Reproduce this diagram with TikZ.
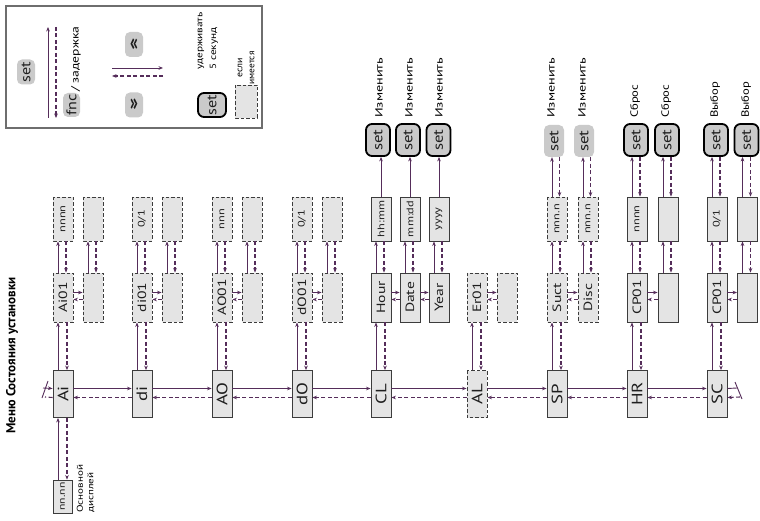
\documentclass[tikz,border=0pt]{standalone}
\usepackage{fontspec}
\usepackage{graphicx}
\setmainfont{PT Sans}
\setsansfont{PT Sans}
\usetikzlibrary{arrows.meta,calc}
\definecolor{arrc}{RGB}{85,45,90}
\definecolor{boxfill}{RGB}{228,228,228}
\definecolor{boxdraw}{RGB}{60,60,60}
\definecolor{btnfill}{RGB}{202,202,202}
\definecolor{txtc}{RGB}{30,30,30}
\definecolor{legc}{RGB}{110,110,110}
\newcommand{\sx}[2][1.3]{\scalebox{#1}[1]{#2}}
\tikzset{
  bx/.style={draw=boxdraw, fill=boxfill, line width=0.9pt, rotate=90, inner sep=0pt, minimum height=20pt, text=txtc},
  dbx/.style={bx, dash pattern=on 3.5pt off 2pt},
  mainbx/.style={minimum width=47pt, font=\fontsize{15}{15}\selectfont},
  lonebx/.style={minimum width=49pt, font=\fontsize{12}{12}\selectfont},
  ltwobx/.style={minimum width=44pt, font=\fontsize{9.5}{9.5}\selectfont},
  setb/.style={draw=black, line width=1.8pt, fill=btnfill, rounded corners=6pt, rotate=90, inner sep=0pt, minimum width=32pt, minimum height=24pt, text=txtc, font=\fontsize{14}{14}\selectfont},
  setl/.style={fill=btnfill, rounded corners=5pt, rotate=90, inner sep=0pt, minimum width=32pt, minimum height=20pt, text=txtc, font=\fontsize{14}{14}\selectfont},
  lbl/.style={rotate=90, anchor=west, inner sep=0pt, text=black, font=\fontsize{10.5}{10.5}\selectfont},
  sa/.style={draw=arrc, line width=0.9pt, -{Stealth[length=4.5pt,width=3.6pt]}},
  sl/.style={draw=arrc, line width=0.9pt},
  da/.style={draw=arrc, line width=1.1pt, dash pattern=on 4pt off 2.5pt, -{Stealth[length=4.5pt,width=3.6pt]}},
  dl/.style={draw=arrc, line width=1.1pt, dash pattern=on 4pt off 2.5pt},
}
\newcommand{\updown}[4]{%
  \draw[sa] ([xshift=#3]#1.east) -- ([xshift=#3]#1.east |- #2.west);
  \draw[da] ([xshift=#4]#1.east |- #2.west) -- ([xshift=#4]#1.east);}
\newcommand{\sidearr}[2]{%
  \draw[sa] ([yshift=5pt]#1.south) -- ([yshift=5pt]#2.north);
  \draw[da] ([yshift=-2pt]#2.north) -- ([yshift=-2pt]#1.south);}
\begin{document}
\begin{tikzpicture}[x=1pt,y=-1pt]
\useasboundingbox (0,0) rectangle (760,521);
\fill[white] (0,0) rectangle (760,521);

% ---------- legend ----------
\draw[legc, line width=1.3pt] (6,6) rectangle (262,128);
\node[setl, minimum width=25pt, minimum height=18pt] (Lset) at (26,72) {\sx[1.15]{set}};
\coordinate (Lv1) at (48,118);
\coordinate (Lv2) at (48,27);
\coordinate (Lv3) at (56,27);
\coordinate (Lv4) at (56,118);
\draw[sa] (Lv1) -- (Lv2);
\draw[da] (Lv3) -- (Lv4);
\node[setl, minimum width=24pt, minimum height=17pt] (Lfnc) at (71.5,105) {\sx[1.15]{fnc}};
\node[lbl] (Lzad) at (76,92) {\sx{/ задержка}};
\node[fill=btnfill, rounded corners=5pt, inner sep=0pt, minimum width=18pt, minimum height=25pt, text=txtc, font=\bfseries\fontsize{16}{16}\selectfont] (Lup) at (134,44.5) {\scalebox{1}[1.5]{«}};
\node[fill=btnfill, rounded corners=5pt, inner sep=0pt, minimum width=18pt, minimum height=25pt, text=txtc, font=\bfseries\fontsize{16}{16}\selectfont] (Ldn) at (134,105) {\scalebox{1}[1.5]{»}};
\coordinate (Lh1) at (112,68);
\coordinate (Lh2) at (163,68);
\coordinate (Lh3) at (163,76);
\coordinate (Lh4) at (112,76);
\draw[sa] (Lh1) -- (Lh2);
\draw[da] (Lh3) -- (Lh4);
\node[setb, minimum width=24pt, minimum height=28pt] (Lhold) at (212,105) {\sx[1.15]{set}};
\node[lbl, font=\fontsize{9}{9}\selectfont] (Lt1) at (201,70) {\sx[1.25]{удерживать}};
\node[lbl, font=\fontsize{9}{9}\selectfont] (Lt2) at (214,70) {\sx[1.25]{5 секунд}};
\node[dbx, minimum width=33pt, minimum height=22pt] (Lopt) at (246,101.5) {};
\node[rotate=90, inner sep=0pt, font=\fontsize{9}{9}\selectfont] (Lt3) at (240,68) {\sx[1.1]{если}};
\node[rotate=90, inner sep=0pt, font=\fontsize{9}{9}\selectfont] (Lt4) at (252,68) {\sx[1.05]{имеется}};

% ---------- title ----------
\node[rotate=90, anchor=west, inner sep=0pt, font=\bfseries\fontsize{13}{13}\selectfont] (title) at (12,434) {Меню Состояния установки};

% ---------- main row ----------
\node[bx,mainbx] (Ai) at (63,394) {\sx[1.25]{Ai}};
\node[bx,mainbx] (di) at (142,394) {\sx[1.25]{di}};
\node[bx,mainbx] (AO) at (222,394) {\sx[1.25]{AO}};
\node[bx,mainbx] (dO) at (302,394) {\sx[1.25]{dO}};
\node[bx,mainbx] (CL) at (381,394) {\sx[1.25]{CL}};
\node[dbx,mainbx] (AL) at (477,394) {\sx[1.25]{AL}};
\node[bx,mainbx] (SP) at (557,394) {\sx[1.25]{SP}};
\node[bx,mainbx] (HR) at (637,394) {\sx[1.25]{HR}};
\node[bx,mainbx] (SC) at (717,394) {\sx[1.25]{SC}};

\foreach \a/\b in {Ai/di, di/AO, AO/dO, dO/CL, CL/AL, AL/SP, SP/HR, HR/SC} {
  \draw[sa] ([yshift=5.5pt]\a.south) -- ([yshift=5.5pt]\b.north);
  \draw[da] ([yshift=-3.5pt]\b.north) -- ([yshift=-3.5pt]\a.south);
}

% wrap marks
\coordinate (wA1) at (43,388);
\coordinate (wA2) at (48,381);
\coordinate (wA3) at (42,398);
\coordinate (wA4) at (45,397);
\draw[sa] (wA1) -- ([yshift=5.5pt]Ai.north);
\draw[sl] (wA2) -- (wA3);
\draw[dl] ([yshift=-3.5pt]Ai.north) -- (wA4);
\coordinate (wS1) at (737,388);
\coordinate (wS2) at (735,382);
\coordinate (wS3) at (742,399);
\coordinate (wS4) at (740,397);
\draw[sl] ([yshift=5.5pt]SC.south) -- (wS1);
\draw[sl] (wS2) -- (wS3);
\draw[da] (wS4) -- ([yshift=-3.5pt]SC.south);

% main display
\node[bx, minimum width=33pt, minimum height=19pt, font=\fontsize{9}{9}\selectfont] (disp) at (62.5,496.5) {\sx{nn.nn}};
\updown{disp}{Ai}{-4.5pt}{4.5pt}
\node[lbl, font=\fontsize{8.5}{8.5}\selectfont] (dl1) at (80,513) {\sx{Основной}};
\node[lbl, font=\fontsize{8.5}{8.5}\selectfont] (dl2) at (91,513) {\sx{дисплей}};

% ---------- level 1 ----------
\node[dbx,lonebx] (aA) at (63,297.5) {\sx{Ai01}};
\node[dbx,lonebx] (aB) at (93,297.5) {};
\node[dbx,lonebx] (bA) at (142,297.5) {\sx{di01}};
\node[dbx,lonebx] (bB) at (172,297.5) {};
\node[dbx,lonebx] (cA) at (222,297.5) {\sx{AO01}};
\node[dbx,lonebx] (cB) at (252,297.5) {};
\node[dbx,lonebx] (dA) at (302,297.5) {\sx{dO01}};
\node[dbx,lonebx] (dB) at (332,297.5) {};
\node[bx,lonebx] (eA) at (381,297.5) {\sx{Hour}};
\node[bx,lonebx] (eB) at (410,297.5) {\sx{Date}};
\node[bx,lonebx] (eC) at (439,297.5) {\sx{Year}};
\node[dbx,lonebx] (fA) at (477,297.5) {\sx{Er01}};
\node[dbx,lonebx] (fB) at (507,297.5) {};
\node[dbx,lonebx] (gA) at (557,297.5) {\sx{Suct}};
\node[dbx,lonebx] (gB) at (588,297.5) {\sx{Disc}};
\node[bx,lonebx] (hA) at (637,297.5) {\sx{CP01}};
\node[bx,lonebx] (hB) at (668,297.5) {};
\node[bx,lonebx] (iA) at (717,297.5) {\sx{CP01}};
\node[bx,lonebx] (iB) at (747.5,297.5) {};

\updown{Ai}{aA}{-5pt}{4pt}
\updown{di}{bA}{-5pt}{4pt}
\updown{AO}{cA}{-5pt}{4pt}
\updown{dO}{dA}{-5pt}{4pt}
\updown{CL}{eA}{-5pt}{4pt}
\updown{AL}{fA}{-5pt}{4pt}
\updown{SP}{gA}{-5pt}{4pt}
\updown{HR}{hA}{-5pt}{4pt}
\updown{SC}{iA}{-5pt}{4pt}

\sidearr{aA}{aB}
\sidearr{bA}{bB}
\sidearr{cA}{cB}
\sidearr{dA}{dB}
\sidearr{eA}{eB}
\sidearr{eB}{eC}
\sidearr{fA}{fB}
\sidearr{gA}{gB}
\sidearr{hA}{hB}
\sidearr{iA}{iB}

% ---------- level 2 ----------
\node[dbx,ltwobx] (aA2) at (63,219) {\sx{nnnn}};
\node[dbx,ltwobx] (aB2) at (93,219) {};
\node[dbx,ltwobx] (bA2) at (142,219) {\sx{0/1}};
\node[dbx,ltwobx] (bB2) at (172,219) {};
\node[dbx,ltwobx] (cA2) at (222,219) {\sx{nnn}};
\node[dbx,ltwobx] (cB2) at (252,219) {};
\node[dbx,ltwobx] (dA2) at (302,219) {\sx{0/1}};
\node[dbx,ltwobx] (dB2) at (332,219) {};
\node[bx,ltwobx] (eA2) at (381,219) {\sx{hh:mm}};
\node[bx,ltwobx] (eB2) at (410,219) {\sx{mm:dd}};
\node[bx,ltwobx] (eC2) at (439,219) {\sx{yyyy}};
\node[dbx,ltwobx] (gA2) at (557,219) {\sx{nnn.n}};
\node[dbx,ltwobx] (gB2) at (588,219) {\sx{nnn.n}};
\node[bx,ltwobx] (hA2) at (637,219) {\sx{nnnn}};
\node[bx,ltwobx] (hB2) at (668,219) {};
\node[bx,ltwobx] (iA2) at (717,219) {\sx{0/1}};
\node[bx,ltwobx] (iB2) at (747.5,219) {};

\foreach \p in {aA,aB,bA,bB,cA,cB,dA,dB,eA,eB,eC,gA,gB,hA,hB,iA,iB} {
  \updown{\p}{\p2}{-5pt}{3pt}
}

% ---------- set buttons ----------
\node[setb] (eS1) at (378,140) {\sx[1.2]{set}};
\node[setb] (eS2) at (408,140) {\sx[1.2]{set}};
\node[setb] (eS3) at (438.5,140) {\sx[1.2]{set}};
\node[setl] (gS1) at (554,141) {\sx[1.2]{set}};
\node[setl] (gS2) at (584,141) {\sx[1.2]{set}};
\node[setb] (hS1) at (636,140) {\sx[1.2]{set}};
\node[setb] (hS2) at (667,140) {\sx[1.2]{set}};
\node[setb] (iS1) at (716,140) {\sx[1.2]{set}};
\node[setb] (iS2) at (746.5,140) {\sx[1.2]{set}};

\draw[sa] (eA2.east) -- (eA2.east |- eS1.west);
\draw[sa] (eB2.east) -- (eB2.east |- eS2.west);
\draw[sa] (eC2.east) -- (eC2.east |- eS3.west);
\updown{gA2}{gS1}{-5pt}{2.5pt}
\updown{gB2}{gS2}{-5pt}{2.5pt}
\updown{hA2}{hS1}{-5pt}{3pt}
\updown{hB2}{hS2}{-5pt}{3pt}
\updown{iA2}{iS1}{-5pt}{3pt}
\updown{iB2}{iS2}{-5pt}{3pt}

\node[lbl] (eL1) at (379,118) {\sx[1.35]{Изменить}};
\node[lbl] (eL2) at (409,118) {\sx[1.35]{Изменить}};
\node[lbl] (eL3) at (439,118) {\sx[1.35]{Изменить}};
\node[lbl] (gL1) at (551,118) {\sx[1.35]{Изменить}};
\node[lbl] (gL2) at (582,118) {\sx[1.35]{Изменить}};
\node[lbl] (hL1) at (635,118) {\sx[1.2]{Сброс}};
\node[lbl] (hL2) at (666,118) {\sx[1.2]{Сброс}};
\node[lbl] (iL1) at (715,118) {\sx[1.2]{Выбор}};
\node[lbl] (iL2) at (746,118) {\sx[1.2]{Выбор}};
\end{tikzpicture}
\end{document}
